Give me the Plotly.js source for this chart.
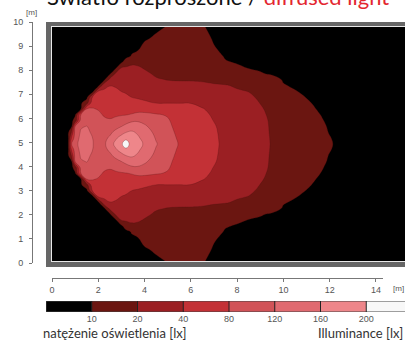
<!DOCTYPE html>
<html>
<head>
<meta charset="utf-8">
<script src="https://cdn.plot.ly/plotly-3.0.1.min.js"></script>
<style>
html,body{margin:0;padding:0;overflow:hidden;background:#ffffff;}
#chart{width:430px;height:342px;}
</style>
</head>
<body>
<div id="chart"></div>
<script>
// ---------- data ----------
// grid positions in metres
const xPositions = [0, 0.35, 0.7, 0.85, 1.0, 1.25, 1.5, 1.75, 2.0, 2.25, 2.5, 2.75, 3.0, 3.2, 3.45, 3.7, 4.0, 4.5, 5.0, 5.5, 6.0, 6.5, 7.0, 7.5, 8.0, 8.5, 9.0, 9.5, 10, 11, 12, 13, 14, 16];
const yPositions = [0, 0.5, 1, 1.25, 1.5, 1.75, 2, 2.25, 2.5, 2.75, 3, 3.25, 3.5, 3.75, 4, 4.25, 4.5, 4.75, 5, 5.25, 5.5, 5.75, 6, 6.25, 6.5, 6.75, 7, 7.25, 7.5, 7.75, 8, 8.25, 8.5, 8.75, 9, 9.5, 10];

// illuminance [lx]; one list per x position, values along y (bottom to top)
const illuminance = [
  [1.4,1.7,2,2.1,2.2,2.3,2.4,2.5,2.6,2.6,2.7,2.7,2.8,2.8,2.9,2.9,3,3,3,3,3,2.9,2.9,2.8,2.8,2.7,2.7,2.6,2.6,2.5,2.4,2.3,2.2,2.1,2,1.7,1.4],
  [2.2,2.6,3,3.2,3.4,3.6,3.8,4,4.2,4.3,4.5,4.6,4.8,4.9,5,5.2,5.3,5.4,5.5,5.4,5.3,5.2,5,4.9,4.8,4.6,4.5,4.3,4.2,4,3.8,3.6,3.4,3.2,3,2.6,2.2],
  [3.1,3.7,4.3,4.6,4.9,5.2,5.5,5.8,6.1,6.4,6.7,7,7.3,7.6,8,8.3,8.6,8.8,9,8.8,8.6,8.3,8,7.6,7.3,7,6.7,6.4,6.1,5.8,5.5,5.2,4.9,4.6,4.3,3.7,3.1],
  [2.5,3.1,3.7,4,4.3,4.6,4.8,5.1,5.4,5.7,6,6.5,7,7.5,8,9.5,22.6,46.8,80.5,46.8,22.6,9.5,8,7.5,7,6.5,6,5.7,5.4,5.1,4.8,4.6,4.3,4,3.7,3.1,2.5],
  [3.3,4,4.7,5,5.4,5.7,6,6.4,6.7,7,7.4,7.8,8.2,9,14,81,94,100,106,100,94,81,14,9,8.2,7.8,7.4,7,6.7,6.4,6,5.7,5.4,5,4.7,4,3.3],
  [3.5,4.3,5.1,5.5,5.9,6.3,6.6,7,7.4,7.8,8.2,8.8,9.8,82,98.8,116,124.4,130.4,136,130.4,124.4,116,98.8,82,9.8,8.8,8.2,7.8,7.4,7,6.6,6.3,5.9,5.5,5.1,4.3,3.5],
  [4,4.5,5.1,5.4,5.7,6,6.3,6.6,6.9,7.2,7.5,16,80.8,94.4,108.4,121.2,128.4,135.2,142,135.2,128.4,121.2,108.4,94.4,80.8,16,7.5,7.2,6.9,6.6,6.3,6,5.7,5.4,5.1,4.5,4],
  [4.2,4.5,4.8,5,5.2,5.4,5.6,5.8,6,6,42,64.4,82.4,90.4,98.4,106.4,114.4,120.4,122,120.4,114.4,106.4,98.4,90.4,82.4,64.4,42,6,6,5.8,5.6,5.4,5.2,5,4.8,4.5,4.2],
  [5,5.4,5.8,6,6.2,6.4,6.6,6.8,7,42.4,54,66,77.6,87.2,96,100,104,104.8,106,104.8,104,100,96,87.2,77.6,66,54,42.4,7,6.8,6.6,6.4,6.2,6,5.8,5.4,5],
  [5.5,6.1,6.7,6.9,7.1,7.3,7.5,8,34.4,46,54,61.6,69.2,76.8,86.4,97.2,108,110,112,110,108,97.2,86.4,76.8,69.2,61.6,54,46,34.4,8,7.5,7.3,7.1,6.9,6.7,6.1,5.5],
  [6,6.6,7.2,7.5,7.8,8,8.5,26.4,39.6,46.8,53.6,60.8,67.6,74.4,82.8,97.2,111.6,126.4,142,126.4,111.6,97.2,82.8,74.4,67.6,60.8,53.6,46.8,39.6,26.4,8.5,8,7.8,7.5,7.2,6.6,6],
  [6.2,6.8,7.4,7.7,8,8.5,23,30.8,38.4,46,53.2,60.8,68,75.6,88,108,130,155,170,155,130,108,88,75.6,68,60.8,53.2,46,38.4,30.8,23,8.5,8,7.7,7.4,6.8,6.2],
  [6.5,7.1,7.7,8,8.5,21,25.8,30.4,35.2,39.8,49.2,58.8,68,77.2,96.8,119.6,148.4,173.6,196,173.6,148.4,119.6,96.8,77.2,68,58.8,49.2,39.8,35.2,30.4,25.8,21,8.5,8,7.7,7.1,6.5],
  [6.8,7,7.3,7.5,15,22.4,26.2,30.2,34.2,38.2,45.6,56.8,67.6,78.8,103.6,131.6,159.6,193.2,216,193.2,159.6,131.6,103.6,78.8,67.6,56.8,45.6,38.2,34.2,30.2,26.2,22.4,15,7.5,7.3,7,6.8],
  [7,7.6,8.6,10.9,18.5,22.8,26.2,29.6,33.2,36.6,39.8,53.6,67.2,82.4,113.6,142.8,164.4,175.2,186,175.2,164.4,142.8,113.6,82.4,67.2,53.6,39.8,36.6,33.2,29.6,26.2,22.8,18.5,10.9,8.6,7.6,7],
  [7.5,8.3,9.8,13.8,18.2,22,25.2,28.6,31.8,35.2,38.4,49.2,67.2,88,116.4,136.8,156,165.2,172,165.2,156,136.8,116.4,88,67.2,49.2,38.4,35.2,31.8,28.6,25.2,22,18.2,13.8,9.8,8.3,7.5],
  [8.5,9.4,12,14.5,17,19.5,22.8,26.4,30,33.6,37.2,44.4,66.8,88,108,126.8,144,150,156,150,144,126.8,108,88,66.8,44.4,37.2,33.6,30,26.4,22.8,19.5,17,14.5,12,9.4,8.5],
  [9,10.9,13.6,15,16.3,17.7,19,21.4,26,30.6,35.4,39.8,64,82.8,91.2,99.6,108,116.8,122.8,116.8,108,99.6,91.2,82.8,64,39.8,35.4,30.6,26,21.4,19,17.7,16.3,15,13.6,10.9,9],
  [10.3,12.4,14.5,15.6,16.6,17.7,18.7,19.8,24.2,29.4,34.8,39.8,58.8,77.6,82.8,86,89.6,92.8,96,92.8,89.6,86,82.8,77.6,58.8,39.8,34.8,29.4,24.2,19.8,18.7,17.7,16.6,15.6,14.5,12.4,10.3],
  [13,14.5,15.9,16.7,17.4,18.1,18.9,19.6,22.8,28.6,34.2,39.8,49.2,58.8,68,70.4,72.8,75.6,78,75.6,72.8,70.4,68,58.8,49.2,39.8,34.2,28.6,22.8,19.6,18.9,18.1,17.4,16.7,15.9,14.5,13],
  [13,14.5,15.9,16.6,17.4,18.1,18.8,19.6,22.4,28.2,34.2,39.8,46,52,58,60.4,62.4,64.8,66.8,64.8,62.4,60.4,58,52,46,39.8,34.2,28.2,22.4,19.6,18.8,18.1,17.4,16.6,15.9,14.5,13],
  [10.5,12.5,14.5,15.4,16.4,17.4,18.4,19.4,22,27,32,37,41.2,44.8,48,50,52,54,56,54,52,50,48,44.8,41.2,37,32,27,22,19.4,18.4,17.4,16.4,15.4,14.5,12.5,10.5],
  [8.5,9.3,10.7,12.3,13.9,15.6,17.2,18.9,21,25.4,30,34,37,38.6,39.66,42,43,43.6,44,43.6,43,42,39.66,38.6,37,34,30,25.4,21,18.9,17.2,15.6,13.9,12.3,10.7,9.3,8.5],
  [6,7.4,8.8,9.4,10.5,13,15.5,18,20.6,23.6,26.4,29,31.2,33.2,34.8,36,36.8,37.2,37.4,37.2,36.8,36,34.8,33.2,31.2,29,26.4,23.6,20.6,18,15.5,13,10.5,9.4,8.8,7.4,6],
  [5,6.5,8,8.8,9.5,11.1,13.9,16.7,19.4,21,22.4,23.8,25,26.4,27.6,29,30.4,31.6,33,31.6,30.4,29,27.6,26.4,25,23.8,22.4,21,19.4,16.7,13.9,11.1,9.5,8.8,8,6.5,5],
  [4.5,6,7.6,8.3,9.1,9.8,12.1,14.7,17.4,19.9,21.4,23,24.4,25,25.8,26.4,27,27.8,28.4,27.8,27,26.4,25.8,25,24.4,23,21.4,19.9,17.4,14.7,12.1,9.8,9.1,8.3,7.6,6,4.5],
  [4,5.5,7.1,7.8,8.6,9.4,10.4,12.7,15,17.5,19.4,19.9,21,21.8,22.4,22.7,22.9,23.1,23.2,23.1,22.9,22.7,22.4,21.8,21,19.9,19.4,17.5,15,12.7,10.4,9.4,8.6,7.8,7.1,5.5,4],
  [3.5,5,6.6,7.3,8,8.8,9.5,12,14,16,17.5,18.3,18.8,19.15,19.4,19.5,19.55,19.65,19.7,19.65,19.55,19.5,19.4,19.15,18.8,18.3,17.5,16,14,12,9.5,8.8,8,7.3,6.6,5,3.5],
  [3,4.5,5.9,6.7,7.4,8.1,8.8,9.6,10.3,11.1,11.8,12.6,13.3,14.1,14.8,15.6,16.3,17.1,17.8,17.1,16.3,15.6,14.8,14.1,13.3,12.6,11.8,11.1,10.3,9.6,8.8,8.1,7.4,6.7,5.9,4.5,3],
  [2.5,3.7,5,5.6,6.2,6.8,7.4,8,8.6,9.3,9.9,10.4,10.9,11.5,12,12.5,13,13.6,14.1,13.6,13,12.5,12,11.5,10.9,10.4,9.9,9.3,8.6,8,7.4,6.8,6.2,5.6,5,3.7,2.5],
  [2,3.8,5,5.5,6,6.5,7,7.3,7.6,7.9,8.2,8.5,8.7,9,9.3,9.6,9.8,10.2,10.4,10.2,9.8,9.6,9.3,9,8.7,8.5,8.2,7.9,7.6,7.3,7,6.5,6,5.5,5,3.8,2],
  [2.2,3,3.8,4.1,4.4,4.7,5,5.3,5.6,5.8,6.1,6.3,6.5,6.7,6.9,7.1,7.3,7.4,7.5,7.4,7.3,7.1,6.9,6.7,6.5,6.3,6.1,5.8,5.6,5.3,5,4.7,4.4,4.1,3.8,3,2.2],
  [1.9,2.4,2.9,3.1,3.3,3.5,3.7,3.9,4.1,4.3,4.5,4.7,4.8,5,5.1,5.2,5.3,5.4,5.5,5.4,5.3,5.2,5.1,5,4.8,4.7,4.5,4.3,4.1,3.9,3.7,3.5,3.3,3.1,2.9,2.4,1.9],
  [1.3,1.6,1.9,2,2.1,2.2,2.3,2.4,2.5,2.6,2.7,2.7,2.8,2.8,2.9,2.9,3,3,3,3,3,2.9,2.9,2.8,2.8,2.7,2.7,2.6,2.5,2.4,2.3,2.2,2.1,2,1.9,1.6,1.3]
];

// contour levels [lx] and band colours (below 10 ... above 200)
const levels = [10, 20, 40, 80, 120, 160, 200];
const levelLabels = ['10', '20', '40', '80', '120', '160', '200'];
const bandColors = ['#000000', '#6b1611', '#9b1f23', '#c33136', '#d15358', '#e06a70', '#ee868a', '#f8f8f8'];

const xTicks = [0, 2, 4, 6, 8, 10, 12, 14];
const yTicks = [0, 1, 2, 3, 4, 5, 6, 7, 8, 9, 10];

const titleBlack = 'Światło rozproszone / ';
const titleRed = 'diffused light';
const labelPL = 'natężenie oświetlenia [lx]';
const labelEN = 'Illuminance [lx]';

// ---------- build ----------
const W = 430, H = 342;
const fx = p => p / W;
const fy = p => 1 - p / H;

// map lux onto equally spaced band index (level i -> i+1) so unequal levels can be drawn
const bounds = [0].concat(levels, [levels[levels.length - 1] + 40]);
function toBand(v) {
  for (let i = 1; i < bounds.length; i++) {
    if (v < bounds[i] || i === bounds.length - 1) {
      return (i - 1) + (v - bounds[i - 1]) / (bounds[i] - bounds[i - 1]);
    }
  }
}
const zBand = illuminance.map(col => col.map(toBand));

const n = levels.length; // 7
const cs = [];
for (let k = 0; k < n; k++) {
  cs.push([k / n, bandColors[k]]);
  cs.push([(k + 1) / n - (k === n - 1 ? 0.0005 : 0), bandColors[k]]);
}
cs.push([1, bandColors[n]]);

const tickFont = {family: 'Liberation Sans, Arial, sans-serif', size: 9, color: '#555'};

const contourTrace = {
  type: 'contour',
  x: xPositions,
  y: yPositions,
  z: zBand,
  transpose: true,
  autocontour: false,
  contours: {start: 1, end: n, size: 1, coloring: 'fill', showlines: true},
  line: {color: 'rgba(70,15,15,0.35)', width: 0.7, smoothing: 1.3},
  colorscale: cs,
  showscale: false,
  hoverinfo: 'skip'
};

// empty trace that carries the separate metre rulers
const rulerTrace = {type: 'scatter', mode: 'markers', x: [], y: [], xaxis: 'x2', yaxis: 'y2', hoverinfo: 'skip', showlegend: false};

// legend strip: one cell per band
const bandIndex = bandColors.map((c, k) => k);
const legendTrace = {
  type: 'heatmap',
  x: bandIndex.map(k => k + 0.5),
  y: [0.5],
  z: [bandIndex],
  xaxis: 'x3', yaxis: 'y3',
  zmin: 0, zmax: bandColors.length - 1,
  colorscale: bandColors.map((c, k) => [k / (bandColors.length - 1), c]),
  showscale: false,
  hoverinfo: 'skip'
};

const legendShapes = levels.map((v, i) => ({
  type: 'line', xref: 'x3', yref: 'y3', x0: i + 1, x1: i + 1, y0: 0, y1: 1,
  line: {color: '#222', width: 1}
}));

const layout = {
  width: W, height: H,
  margin: {l: 0, r: 0, t: 0, b: 0},
  paper_bgcolor: '#ffffff',
  plot_bgcolor: 'rgba(0,0,0,0)',
  showlegend: false,
  xaxis: {domain: [fx(52), fx(52 + 16 * 23.14)], range: [0, 16], visible: false, fixedrange: true},
  yaxis: {domain: [fy(261), fy(27)], range: [0, 10], visible: false, fixedrange: true},
  xaxis2: {
    anchor: 'free', position: fy(278), side: 'bottom',
    domain: [fx(52), fx(52 + 14.3 * 23.14)], range: [0, 14.3],
    showline: true, linecolor: '#777', linewidth: 1,
    ticks: 'outside', ticklen: 3, tickcolor: '#777', tickwidth: 1,
    tickmode: 'array', tickvals: xTicks, tickfont: tickFont,
    showgrid: false, zeroline: false, fixedrange: true
  },
  yaxis2: {
    anchor: 'free', position: fx(32), side: 'left',
    domain: [fy(263), fy(22)], range: [0, 10],
    showline: true, linecolor: '#777', linewidth: 1,
    ticks: 'outside', ticklen: 3, tickcolor: '#777', tickwidth: 1,
    tickmode: 'array', tickvals: yTicks, tickfont: tickFont,
    ticklabelstandoff: 4,
    showgrid: false, zeroline: false, fixedrange: true
  },
  xaxis3: {
    anchor: 'y3', domain: [fx(46), fx(46 + 8 * 45.75)], range: [0, 8],
    showline: false, showgrid: false, zeroline: false, ticks: '',
    tickmode: 'array', tickvals: levels.map((v, i) => i + 1), ticktext: levelLabels,
    tickfont: tickFont, fixedrange: true
  },
  yaxis3: {
    anchor: 'x3', domain: [fy(312), fy(301)], range: [0, 1], visible: false, fixedrange: true
  },
  shapes: [
    {type: 'rect', xref: 'paper', yref: 'paper', layer: 'below',
     x0: fx(46), x1: fx(430), y0: fy(267), y1: fy(22), fillcolor: '#666666', line: {width: 0}},
    {type: 'rect', xref: 'paper', yref: 'paper', layer: 'below',
     x0: fx(51), x1: fx(427), y0: fy(262), y1: fy(26), fillcolor: '#e8e8e8', line: {width: 0}},
    {type: 'rect', xref: 'x3', yref: 'y3', x0: 0, x1: 8, y0: 0, y1: 1,
     line: {color: '#444', width: 1}, fillcolor: 'rgba(0,0,0,0)'}
  ].concat(legendShapes),
  annotations: [
    {xref: 'paper', yref: 'paper', x: fx(45), y: fy(-4), xanchor: 'left', yanchor: 'middle', showarrow: false,
     text: titleBlack + '<span style="color:#e3262f">' + titleRed + '</span>',
     font: {family: 'Lato, sans-serif', size: 22, color: '#111'}},
    {xref: 'paper', yref: 'paper', x: fx(31), y: fy(13), xanchor: 'center', yanchor: 'middle', showarrow: false,
     text: '[m]', font: {family: 'Liberation Sans, Arial, sans-serif', size: 8, color: '#555'}},
    {xref: 'paper', yref: 'paper', x: fx(398), y: fy(288), xanchor: 'center', yanchor: 'middle', showarrow: false,
     text: '[m]', font: {family: 'Liberation Sans, Arial, sans-serif', size: 8, color: '#555'}},
    {xref: 'paper', yref: 'paper', x: fx(41), y: fy(333), xanchor: 'left', yanchor: 'middle', showarrow: false,
     text: labelPL, font: {family: 'Lato, sans-serif', size: 13, color: '#333'}},
    {xref: 'paper', yref: 'paper', x: fx(405), y: fy(333), xanchor: 'right', yanchor: 'middle', showarrow: false,
     text: labelEN, font: {family: 'Lato, sans-serif', size: 13, color: '#333'}}
  ]
};

Plotly.newPlot('chart', [contourTrace, rulerTrace, legendTrace], layout, {staticPlot: true, displayModeBar: false});
</script>
</body>
</html>
